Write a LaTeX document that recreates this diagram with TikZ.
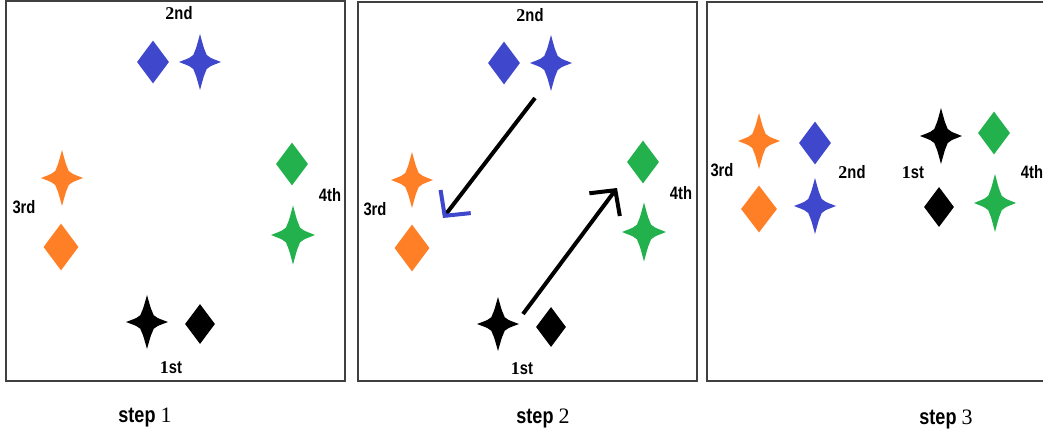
\documentclass[tikz,border=0pt]{standalone}
\usepackage{fontspec}
\setmainfont{Liberation Sans}[FakeStretch=0.82]
\newfontfamily\numf{Liberation Serif}
\usetikzlibrary{shapes, calc, arrows.meta, positioning}

\definecolor{pblue}{RGB}{63,72,204}
\definecolor{porange}{RGB}{255,127,39}
\definecolor{pgreen}{RGB}{34,177,76}

\begin{document}
\begin{tikzpicture}[x=1pt, y=-1pt,
  gem/.style={diamond, fill=#1, inner sep=0pt, minimum width=32pt, minimum height=43pt},
  spark/.style={rectangle, inner sep=0pt, minimum width=42pt, minimum height=56pt,
    path picture={
      \fill[#1] let \p0=(path picture bounding box.center),
        \p1=($(path picture bounding box.north east)-(\p0)$) in
        (\x0,\y0+\y1)
        .. controls (\x0+0.2*\x1,\y0+0.45*\y1) .. (\x0+0.32*\x1,\y0+0.25*\y1)
        .. controls (\x0+0.45*\x1,\y0+0.16*\y1) .. (\x0+\x1,\y0)
        .. controls (\x0+0.45*\x1,\y0-0.16*\y1) .. (\x0+0.32*\x1,\y0-0.25*\y1)
        .. controls (\x0+0.2*\x1,\y0-0.45*\y1) .. (\x0,\y0-\y1)
        .. controls (\x0-0.2*\x1,\y0-0.45*\y1) .. (\x0-0.32*\x1,\y0-0.25*\y1)
        .. controls (\x0-0.45*\x1,\y0-0.16*\y1) .. (\x0-\x1,\y0)
        .. controls (\x0-0.45*\x1,\y0+0.16*\y1) .. (\x0-0.32*\x1,\y0+0.25*\y1)
        .. controls (\x0-0.2*\x1,\y0+0.45*\y1) .. cycle;
    }},
  tag/.style={font=\fontsize{18}{20}\selectfont\bfseries, inner sep=0pt},
  steptag/.style={font=\fontsize{22}{24}\selectfont\bfseries, inner sep=0pt},
  frame/.style={draw=black!75, line width=1.2pt},
  move/.style={line width=4pt, -{Straight Barb[length=18pt, width=38pt, line width=4pt]}}]

\useasboundingbox (0,0) rectangle (1043,436);

% panels
\draw[frame] (6,1) rectangle (345,381);
\draw[frame] (358,2) rectangle (697,381);
\draw[frame] (1043,2) -- (707,2) -- (707,381) -- (1043,381);

% step 1
\node[gem=pblue] (bdia1) at (153,62) {};
\node[spark=pblue] (bstar1) at (200,62) {};
\node[spark=porange] (ostar1) at (62,178) {};
\node[gem=porange, minimum width=35pt, minimum height=47pt] (odia1) at (61,247) {};
\node[gem=pgreen] (gdia1) at (292,164) {};
\node[spark=pgreen, minimum width=44pt, minimum height=59pt] (gstar1) at (293,235) {};
\node[spark=black, minimum height=54pt] (kstar1) at (147,322) {};
\node[gem=black, minimum width=30pt, minimum height=40pt] (kdia1) at (200,324) {};

\node[tag] (second1) at (179,13) {{\numf 2}nd};
\node[tag] (third1) at (24,207) {3rd};
\node[tag] (fourth1) at (330,195) {4th};
\node[tag] (first1) at (171,368) {{\numf 1}st};

% step 2
\node[gem=pblue] (bdia2) at (504,63) {};
\node[spark=pblue] (bstar2) at (551,63) {};
\node[spark=porange] (ostar2) at (412,180) {};
\node[gem=porange, minimum width=35pt, minimum height=47pt] (odia2) at (412,248) {};
\node[gem=pgreen] (gdia2) at (643,162) {};
\node[spark=pgreen, minimum width=44pt, minimum height=59pt] (gstar2) at (644,232) {};
\node[spark=black, minimum height=54pt] (kstar2) at (498,324) {};
\node[gem=black, minimum width=30pt, minimum height=40pt] (kdia2) at (551,327) {};

\node[tag] (second2) at (530,15) {{\numf 2}nd};
\node[tag] (third2) at (375,209) {3rd};
\node[tag] (fourth2) at (681,193) {4th};
\node[tag] (first2) at (522,369) {{\numf 1}st};

\coordinate (go23) at (535,98);
\coordinate (to23) at (443,218);
\coordinate (go14) at (523,314);
\coordinate (to14) at (617,188);

\draw[move, -{Straight Barb[length=18pt, width=38pt, line width=4pt, color=pblue]}] (go23) -- (to23);
\draw[move] (go14) -- (to14);

% step 3
\node[spark=porange] (ostar3) at (759,141) {};
\node[gem=pblue] (bdia3) at (815,143) {};
\node[gem=porange, minimum width=36pt, minimum height=47pt] (odia3) at (759,209) {};
\node[spark=pblue] (bstar3) at (815,206) {};
\node[spark=black] (kstar3) at (941,136) {};
\node[gem=pgreen] (gdia3) at (994,133) {};
\node[gem=black, minimum width=30pt, minimum height=40pt] (kdia3) at (939,207) {};
\node[spark=pgreen, minimum height=58pt] (gstar3) at (995,203) {};

\node[tag] (third3) at (722,170) {3rd};
\node[tag] (second3) at (852,172) {{\numf 2}nd};
\node[tag] (first3) at (913,173) {{\numf 1}st};
\node[tag] (fourth3) at (1032,172) {4th};

% captions
\node[steptag] (cap1) at (145,418) {step {\numf\mdseries 1}};
\node[steptag] (cap2) at (543,418) {step {\numf\mdseries 2}};
\node[steptag] (cap3) at (946,419) {step {\numf\mdseries 3}};

\end{tikzpicture}
\end{document}
